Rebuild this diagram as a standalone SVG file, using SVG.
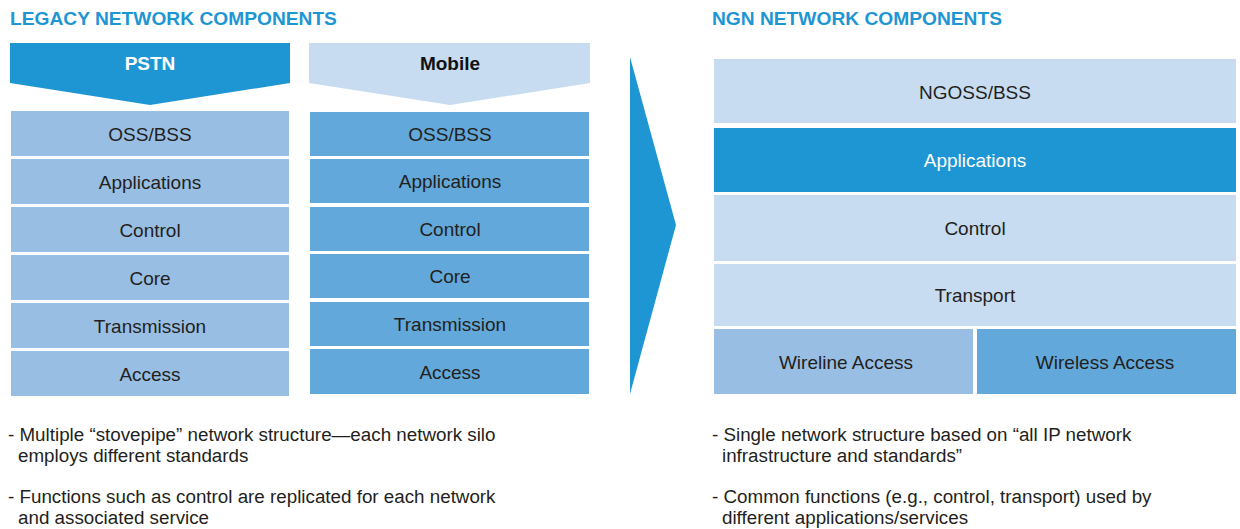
<svg xmlns="http://www.w3.org/2000/svg" width="1240" height="529" viewBox="0 0 1240 529">
  <style>
    .title { font-family: "Liberation Sans", Arial, sans-serif; font-weight: bold; font-size: 19.2px; fill: #1E96D3; }
    .head { font-family: "Liberation Sans", Arial, sans-serif; font-weight: bold; font-size: 19px; text-anchor: middle; }
    .lbl { font-family: "Liberation Sans", Arial, sans-serif; font-size: 19px; fill: #231F20; text-anchor: middle; }
    .lbl-w { font-family: "Liberation Sans", Arial, sans-serif; font-size: 19px; fill: #FFFFFF; text-anchor: middle; }
    .note { font-family: "Liberation Sans", Arial, sans-serif; font-size: 18.8px; fill: #231F20; }
    .c-dark { fill: #1E96D3; }
    .c-mid { fill: #62A8DA; }
    .c-soft { fill: #98BEE4; }
    .c-pale { fill: #C7DCF0; }
  </style>
  <rect width="1240" height="529" fill="#FFFFFF"/>

  <!-- section titles -->
  <text class="title" x="10" y="25">LEGACY NETWORK COMPONENTS</text>
  <text class="title" x="712" y="25">NGN NETWORK COMPONENTS</text>

  <!-- legacy: PSTN silo -->
  <g id="pstn-head">
    <polygon class="c-dark" points="10,43 290,43 290,83 150,105 10,83"/>
    <text class="head" x="150" y="70" fill="#FFFFFF">PSTN</text>
  </g>
  <g id="pstn-oss"><rect class="c-soft" x="11" y="111" width="278" height="45"/><text class="lbl" x="150" y="141">OSS/BSS</text></g>
  <g id="pstn-apps"><rect class="c-soft" x="11" y="159" width="278" height="45"/><text class="lbl" x="150" y="189">Applications</text></g>
  <g id="pstn-control"><rect class="c-soft" x="11" y="207" width="278" height="45"/><text class="lbl" x="150" y="237">Control</text></g>
  <g id="pstn-core"><rect class="c-soft" x="11" y="255" width="278" height="45"/><text class="lbl" x="150" y="285">Core</text></g>
  <g id="pstn-transmission"><rect class="c-soft" x="11" y="303" width="278" height="45"/><text class="lbl" x="150" y="333">Transmission</text></g>
  <g id="pstn-access"><rect class="c-soft" x="11" y="351" width="278" height="45"/><text class="lbl" x="150" y="381">Access</text></g>

  <!-- legacy: Mobile silo -->
  <g id="mobile-head">
    <polygon class="c-pale" points="309,43 590,43 590,83 450,105 309,83"/>
    <text class="head" x="450" y="70" fill="#111111">Mobile</text>
  </g>
  <g id="mobile-oss"><rect class="c-mid" x="310" y="112" width="279" height="44"/><text class="lbl" x="450" y="141">OSS/BSS</text></g>
  <g id="mobile-apps"><rect class="c-mid" x="310" y="159" width="279" height="44"/><text class="lbl" x="450" y="188">Applications</text></g>
  <g id="mobile-control"><rect class="c-mid" x="310" y="207" width="279" height="44"/><text class="lbl" x="450" y="236">Control</text></g>
  <g id="mobile-core"><rect class="c-mid" x="310" y="254" width="279" height="44"/><text class="lbl" x="450" y="283">Core</text></g>
  <g id="mobile-transmission"><rect class="c-mid" x="310" y="302" width="279" height="44"/><text class="lbl" x="450" y="331">Transmission</text></g>
  <g id="mobile-access"><rect class="c-mid" x="310" y="349" width="279" height="45"/><text class="lbl" x="450" y="379">Access</text></g>

  <!-- transition arrow -->
  <g id="connectors">
    <polygon class="c-dark" points="630,57 676,225 630,394"/>
  </g>

  <!-- NGN layered stack -->
  <g id="ngn-ngoss"><rect class="c-pale" x="714" y="59" width="522" height="64"/><text class="lbl" x="975" y="99">NGOSS/BSS</text></g>
  <g id="ngn-apps"><rect class="c-dark" x="714" y="128" width="522" height="64"/><text class="lbl-w" x="975" y="167">Applications</text></g>
  <g id="ngn-control"><rect class="c-pale" x="714" y="195" width="522" height="66"/><text class="lbl" x="975" y="235">Control</text></g>
  <g id="ngn-transport"><rect class="c-pale" x="714" y="264" width="522" height="62"/><text class="lbl" x="975" y="302">Transport</text></g>
  <g id="ngn-wireline"><rect class="c-soft" x="714" y="329" width="259" height="65"/><text class="lbl" x="846" y="369">Wireline Access</text></g>
  <g id="ngn-wireless"><rect class="c-mid" x="977" y="329" width="259" height="65"/><text class="lbl" x="1105" y="369">Wireless Access</text></g>

  <!-- notes -->
  <g id="legacy-notes">
    <text class="note" x="8" y="441">- Multiple “stovepipe” network structure—each network silo</text>
    <text class="note" x="18" y="462">employs different standards</text>
    <text class="note" x="8" y="503">- Functions such as control are replicated for each network</text>
    <text class="note" x="18" y="524">and associated service</text>
  </g>
  <g id="ngn-notes">
    <text class="note" x="712" y="441">- Single network structure based on “all IP network</text>
    <text class="note" x="722" y="462">infrastructure and standards”</text>
    <text class="note" x="712" y="503">- Common functions (e.g., control, transport) used by</text>
    <text class="note" x="722" y="524">different applications/services</text>
  </g>
</svg>
